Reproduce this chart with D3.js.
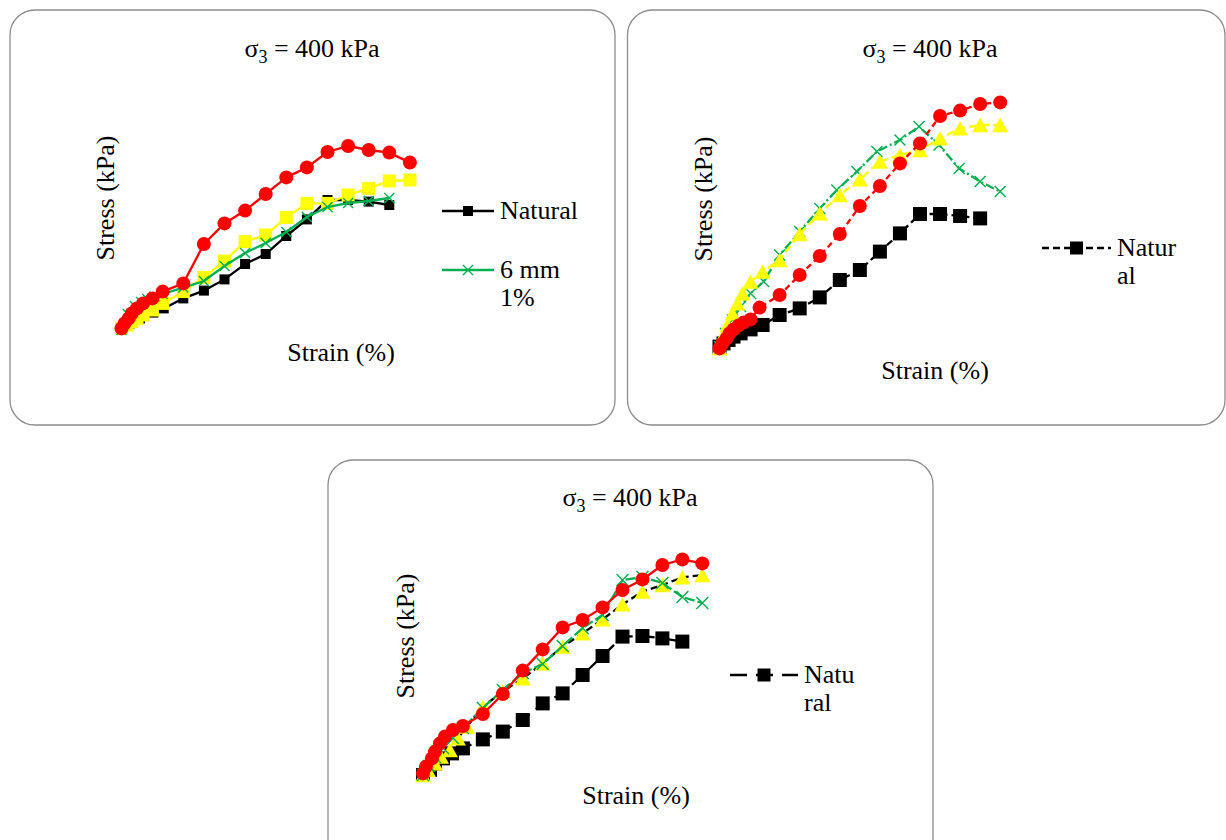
<!DOCTYPE html>
<html>
<head>
<meta charset="utf-8">
<script src="https://cdn.jsdelivr.net/npm/d3@7"></script>
<style>
  body { margin: 0; background: #fff; }
</style>
</head>
<body>
<div class="chart"></div>
<script>
// values: [strain %, stress kPa]
const titleLabel = "400 kPa";
const xLabel = "Strain (%)";
const yLabel = "Stress (kPa)";
const serif = "'Liberation Serif', 'Times New Roman', 'DejaVu Serif', serif";

// panel 1
const p1Natural = [[0,8],[0.4,33],[0.9,58],[1.55,87],[2.05,108],[3,158],[4,197],[5,253],[6,330],[7,380],[8,470],[9,553],[10,650],[11,650],[12,642],[13,625]];
const p1Green = [[0,0],[0.3,80],[0.65,120],[0.95,140],[1.25,155],[1.6,168],[2,180],[3,212],[4,245],[5,320],[6,385],[7,435],[8,490],[9,565],[10,615],[11,635],[12,645],[13,660]];
const p1Yellow = [[0,8],[0.25,25],[0.5,42],[0.75,58],[1.05,75],[1.5,100],[2,133],[3,192],[4,263],[5,345],[6,442],[7,475],[8,563],[9,633],[10,633],[11,675],[12,708],[13,745],[14,750]];
const p1Red = [[0,8],[0.15,33],[0.35,58],[0.5,83],[0.75,108],[1.05,133],[1.5,158],[2,192],[3,233],[4,430],[5,533],[6,597],[7,680],[8,763],[9,813],[10,890],[11,920],[12,900],[13,887],[14,837]];

// panel 2
const p2Natural = [[0,12],[0.2,28],[0.45,45],[0.7,62],[1.05,78],[1.55,98],[2.15,120],[3,170],[4,203],[5,258],[6,345],[7,395],[8,487],[9,578],[10,675],[11,675],[12,665],[13,653]];
const p2Green = [[0,12],[0.3,78],[0.65,145],[1.05,212],[1.55,278],[2.2,337],[3,470],[4,587],[5,703],[5.85,795],[6.85,887],[7.85,987],[9,1045],[9.95,1112],[10.95,1020],[11.95,903],[13,837],[14,787]];
const p2Yellow = [[0,3],[0.15,62],[0.4,120],[0.65,178],[0.9,228],[1.15,278],[1.55,337],[2.15,387],[3,445],[4,575],[5,678],[6,770],[7,848],[8,937],[9,970],[10,995],[11,1053],[12,1103],[13,1120],[14,1120]];
const p2Red = [[0,3],[0.15,28],[0.35,53],[0.5,78],[0.7,98],[0.95,117],[1.2,132],[1.55,148],[2,207],[3,270],[4,370],[5,465],[6,575],[7,715],[8,815],[9,928],[10,1028],[11,1165],[12,1192],[13,1225],[14,1233]];

// panel 3
const p3Natural = [[0,0],[0.35,25],[0.6,58],[1,83],[1.45,108],[2,133],[3,178],[4,217],[5,275],[6,358],[7,408],[8,500],[9,595],[10,692],[11,695],[12,683],[13,667]];
const p3Green = [[0,0],[0.3,45],[0.6,90],[1,135],[1.5,185],[2,235],[3,335],[4,425],[5,510],[6,555],[7,645],[8,735],[9,800],[10,975],[11,990],[12,960],[13,890],[14,860]];
const p3Yellow = [[0,0],[0.25,25],[0.6,58],[0.9,92],[1.35,125],[1.75,183],[2.2,242],[3,342],[4,417],[5,483],[6,558],[7,642],[8,708],[9,778],[10,853],[11,917],[12,950],[13,988],[14,1000]];
const p3Red = [[0,8],[0.15,42],[0.45,83],[0.6,117],[0.85,158],[1.1,192],[1.5,225],[2,245],[3,305],[4,405],[5,522],[6,628],[7,738],[8,775],[9,838],[10,925],[11,978],[12,1050],[13,1078],[14,1058]];

const svg = d3.select(".chart").append("svg")
  .attr("width", 1226)
  .attr("height", 840)
  .attr("font-family", serif);

function drawMarker(g, type, cx, cy, size, color) {
  if (type === "square") {
    g.append("rect").attr("x", cx - size/2).attr("y", cy - size/2)
      .attr("width", size).attr("height", size).attr("fill", color);
  } else if (type === "circle") {
    g.append("circle").attr("cx", cx).attr("cy", cy).attr("r", size/2).attr("fill", color);
  } else if (type === "triangle") {
    const h = size * 0.9;
    g.append("path")
      .attr("d", `M${cx},${cy - h/2}L${cx + size/2},${cy + h/2}L${cx - size/2},${cy + h/2}Z`)
      .attr("fill", color);
  } else if (type === "x") {
    const s = size/2;
    g.append("path")
      .attr("d", `M${cx-s},${cy-s}L${cx+s},${cy+s}M${cx-s},${cy+s}L${cx+s},${cy-s}`)
      .attr("stroke", color).attr("stroke-width", 1.4).attr("fill", "none");
  }
}

function drawPanel(p) {
  const g = svg.append("g");

  g.append("rect")
    .attr("x", p.box[0]).attr("y", p.box[1])
    .attr("width", p.box[2]).attr("height", p.box[3])
    .attr("rx", 25).attr("ry", 25)
    .attr("fill", "#fff").attr("stroke", "#8c8c8c").attr("stroke-width", 1.3);

  const xScale = d3.scaleLinear().domain([0, 14]).range([p.x0, p.x0 + 14 * p.dx]);
  const yScale = d3.scaleLinear().domain([0, 1000]).range([p.y0, p.y0 - 200]);

  const line = d3.line().x(d => xScale(d[0])).y(d => yScale(d[1]));

  p.series.forEach(s => {
    g.append("path")
      .datum(s.data)
      .attr("d", line)
      .attr("fill", "none")
      .attr("stroke", s.lineColor || s.color)
      .attr("stroke-width", 2.3)
      .attr("stroke-dasharray", s.dash || null);
    s.data.forEach(d => drawMarker(g, s.marker, xScale(d[0]), yScale(d[1]), s.size, s.color));
  });

  // title
  const t = g.append("text")
    .attr("x", p.title[0]).attr("y", p.title[1])
    .attr("text-anchor", "middle")
    .style("font-family", serif)
    .style("font-size", "26px");
  t.append("tspan").text("σ");
  t.append("tspan").attr("dy", 6).style("font-size", "18px").text("3");
  t.append("tspan").attr("dy", -6).text(" = " + titleLabel);

  g.append("text")
    .attr("transform", `translate(${p.ylab[0]},${p.ylab[1]}) rotate(-90)`)
    .attr("text-anchor", "middle").attr("dominant-baseline", "central")
    .style("font-family", serif)
    .style("font-size", "26px")
    .text(yLabel);

  g.append("text")
    .attr("x", p.xlab[0]).attr("y", p.xlab[1])
    .attr("text-anchor", "middle").attr("dominant-baseline", "central")
    .style("font-family", serif)
    .style("font-size", "26px")
    .text(xLabel);

  // legend
  p.legend.forEach(l => {
    g.append("line")
      .attr("x1", l.x1).attr("x2", l.x2).attr("y1", l.y).attr("y2", l.y)
      .attr("stroke", l.color).attr("stroke-width", 2.3)
      .attr("stroke-dasharray", l.dash || null);
    drawMarker(g, l.marker, (l.x1 + l.x2) / 2, l.y, l.size, l.color);
    const lt = g.append("text").attr("x", l.x2 + 6).attr("y", l.y + 8)
      .style("font-family", serif)
      .style("font-size", "26px");
    l.lines.forEach((txt, i) => {
      lt.append("tspan").attr("x", l.x2 + 6).attr("dy", i === 0 ? 0 : 28).text(txt);
    });
  });
}

drawPanel({
  box: [10, 10, 605, 415],
  x0: 121.5, dx: 20.6, y0: 330,
  title: [312, 57], ylab: [105, 198], xlab: [341, 352],
  series: [
    { data: p1Natural, color: "#000", marker: "square", size: 10 },
    { data: p1Yellow, color: "#ffff00", marker: "square", size: 13 },
    { data: p1Green, color: "#00b050", marker: "x", size: 10 },
    { data: p1Red, color: "#ff0000", marker: "circle", size: 14 }
  ],
  legend: [
    { x1: 442, x2: 494, y: 211, color: "#000", marker: "square", size: 10, lines: ["Natural"] },
    { x1: 442, x2: 494, y: 270, color: "#00b050", marker: "x", size: 10, lines: ["6 mm", "1%"] }
  ]
});

drawPanel({
  box: [627.5, 10, 597.5, 415],
  x0: 719.5, dx: 20.05, y0: 349,
  title: [930, 57], ylab: [703, 199], xlab: [935, 370],
  series: [
    { data: p2Natural, color: "#000", marker: "square", size: 14, dash: "7,4" },
    { data: p2Green, color: "#00b050", marker: "x", size: 11, dash: "9,3,2,3" },
    { data: p2Yellow, color: "#ffff00", marker: "triangle", size: 16, dash: "8,4" },
    { data: p2Red, color: "#ff0000", marker: "circle", size: 14, dash: "6,4" }
  ],
  legend: [
    { x1: 1042, x2: 1111, y: 248, color: "#000", marker: "square", size: 13, dash: "7,4", lines: ["Natur", "al"] }
  ]
});

drawPanel({
  box: [328, 460, 605, 420],
  x0: 423, dx: 19.95, y0: 775,
  title: [630, 506], ylab: [405, 636], xlab: [636, 795],
  series: [
    { data: p3Natural, color: "#000", marker: "square", size: 14, dash: "14,8" },
    { data: p3Yellow, color: "#ffff00", lineColor: "#000", marker: "triangle", size: 16, dash: "7,4" },
    { data: p3Green, color: "#00b050", marker: "x", size: 12, dash: "10,3" },
    { data: p3Red, color: "#ff0000", marker: "circle", size: 14 }
  ],
  legend: [
    { x1: 730, x2: 798, y: 675, color: "#000", marker: "square", size: 13, dash: "17,9", lines: ["Natu", "ral"] }
  ]
});
</script>
</body>
</html>
